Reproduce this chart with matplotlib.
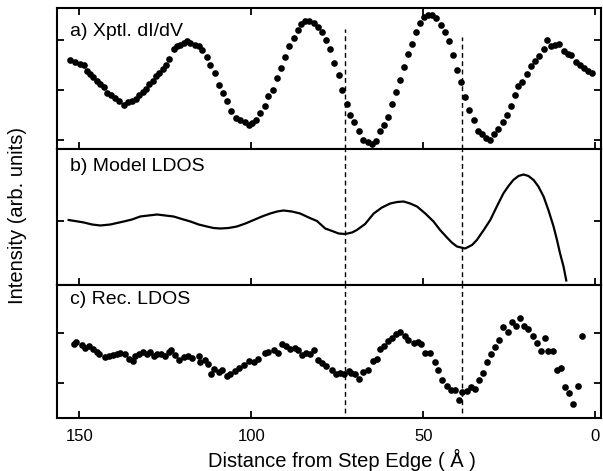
import numpy as np
import matplotlib
matplotlib.use("Agg")
import matplotlib.pyplot as plt

plt.rcParams['font.family'] = ['Liberation Sans', 'DejaVu Sans']

# a) experimental dI/dV (distance in Angstrom, intensity arb.)
xa = [152.6, 151.2, 149.7, 148.7, 147.8, 146.8, 145.9, 144.9, 143.9, 142.9,
      141.9, 140.7, 139.5, 138.4, 137.1, 135.8, 134.7, 133.5, 132.6, 131.6,
      130.6, 129.7, 128.7, 127.7, 126.7, 125.8, 124.8, 123.8, 122.6, 121.6,
      120.6, 119.7, 118.7, 117.7, 116.5, 115.3, 114.3, 112.9, 111.9, 110.5,
      109.5, 108.1, 107.1, 105.8, 104.4, 103.2, 101.7, 100.8, 99.8, 98.6,
      97.4, 96.1, 95.0, 93.8, 92.5, 91.3, 90.1, 89.0, 87.7, 86.5,
      85.5, 84.3, 83.1, 81.9, 80.6, 79.3, 78.3, 77.0, 75.9, 74.6,
      73.5, 72.2, 71.2, 70.0, 68.6, 67.4, 66.1, 64.9, 63.8, 62.5,
      61.3, 60.3, 59.1, 57.9, 56.7, 55.5, 54.4, 53.3, 52.1, 51.0,
      49.7, 48.6, 47.4, 46.2, 44.9, 43.8, 42.6, 41.4, 40.1, 38.9,
      37.8, 36.6, 35.3, 34.1, 33.0, 31.7, 30.5, 29.4, 28.2, 26.9,
      25.7, 24.5, 23.4, 22.4, 21.2, 19.9, 18.7, 17.6, 16.3, 15.0,
      14.1, 12.9, 11.7, 10.5, 9.2, 8.0, 6.9, 5.6, 4.4, 3.2, 2.0, 0.8]
ya = [1.60, 1.55, 1.51, 1.49, 1.38, 1.31, 1.25, 1.18, 1.11, 1.05,
      0.93, 0.89, 0.83, 0.77, 0.70, 0.75, 0.77, 0.82, 0.89, 0.95,
      1.02, 1.11, 1.18, 1.27, 1.34, 1.42, 1.50, 1.63, 1.82, 1.89,
      1.91, 1.95, 1.98, 1.95, 1.91, 1.87, 1.80, 1.67, 1.50, 1.33,
      1.10, 0.93, 0.77, 0.58, 0.43, 0.40, 0.35, 0.30, 0.33, 0.40,
      0.53, 0.67, 0.87, 1.00, 1.23, 1.43, 1.67, 1.89, 2.05, 2.20,
      2.33, 2.38, 2.38, 2.35, 2.27, 2.17, 2.00, 1.81, 1.53, 1.29,
      1.00, 0.71, 0.49, 0.35, 0.17, 0.00, -0.05, -0.09, -0.02, 0.17,
      0.29, 0.45, 0.71, 0.95, 1.20, 1.45, 1.73, 1.93, 2.17, 2.34,
      2.46, 2.51, 2.51, 2.45, 2.31, 2.17, 1.98, 1.70, 1.40, 1.15,
      0.85, 0.60, 0.40, 0.18, 0.11, 0.03, 0.00, 0.11, 0.22, 0.35,
      0.50, 0.67, 0.89, 1.07, 1.15, 1.31, 1.47, 1.58, 1.69, 1.82,
      2.00, 1.89, 1.91, 1.93, 1.78, 1.73, 1.70, 1.55, 1.49, 1.43, 1.38, 1.33]

# b) model LDOS
xb = [153.1, 150.4, 148.7, 146.3, 143.9, 141.0, 137.1, 134.7, 132.3, 129.9,
      127.4, 125.0, 122.6, 120.2, 117.7, 115.3, 112.9, 111.0, 109.0, 106.6,
      104.2, 101.7, 99.3, 96.9, 94.5, 92.5, 90.6, 88.2, 85.8, 83.3,
      80.9, 78.5, 76.1, 74.6, 72.7, 70.7, 69.3, 66.9, 64.4, 62.0,
      59.6, 57.6, 55.7, 53.8, 51.8, 49.4, 47.0, 45.1, 43.1, 41.7,
      40.2, 37.8, 35.8, 34.4, 32.5, 30.5, 28.6, 26.7, 25.2, 23.8,
      22.3, 20.8, 19.4, 17.9, 16.5, 15.0, 13.6, 12.1, 11.1, 10.2,
      9.2, 8.4]
yb = [0.02, -0.01, -0.03, -0.07, -0.09, -0.07, -0.01, 0.03, 0.09, 0.11,
      0.13, 0.11, 0.09, 0.04, -0.01, -0.07, -0.11, -0.14, -0.15, -0.14,
      -0.11, -0.05, 0.02, 0.09, 0.15, 0.19, 0.21, 0.19, 0.15, 0.07,
      0.00, -0.15, -0.21, -0.25, -0.26, -0.23, -0.18, -0.06, 0.15, 0.27,
      0.35, 0.38, 0.39, 0.35, 0.29, 0.15, -0.01, -0.18, -0.33, -0.43,
      -0.51, -0.55, -0.48, -0.38, -0.19, 0.02, 0.29, 0.55, 0.70, 0.82,
      0.90, 0.93, 0.90, 0.82, 0.69, 0.49, 0.22, -0.11, -0.38, -0.65,
      -0.91, -1.19]

# c) reconstructed LDOS
xc = [151.7, 151.0, 149.2, 148.3, 147.3, 146.1, 144.9, 144.4, 142.6, 141.5,
      140.3, 139.0, 138.1, 136.8, 135.5, 134.5, 133.7, 132.6, 131.6, 130.3,
      129.4, 128.4, 127.4, 126.2, 125.0, 124.0, 123.3, 122.1, 120.9, 119.7,
      118.4, 117.2, 115.1, 114.8, 113.6, 112.6, 111.6, 110.7, 109.5, 108.5,
      107.1, 106.1, 104.7, 103.5, 102.2, 100.8, 99.3, 98.1, 95.9, 95.0,
      93.5, 92.2, 91.1, 89.9, 88.7, 87.4, 86.4, 85.3, 84.1, 82.8,
      81.9, 80.6, 79.3, 78.3, 76.5, 75.4, 74.1, 72.9, 71.7, 70.9,
      69.8, 68.6, 67.4, 66.1, 64.7, 63.5, 62.5, 61.5, 60.3, 59.1,
      57.9, 56.7, 55.4, 54.3, 52.8, 51.5, 50.6, 49.4, 48.0, 46.7,
      45.7, 44.4, 43.1, 41.9, 40.9, 39.7, 38.6, 37.3, 36.0, 34.9,
      33.7, 32.5, 31.5, 30.2, 29.1, 27.9, 26.7, 25.4, 24.2, 23.1,
      21.8, 20.8, 19.4, 18.2, 16.9, 15.7, 14.5, 13.6, 12.4, 11.1,
      9.9, 8.7, 7.6, 6.3, 5.0, 3.9]
yc = [0.79, 0.83, 0.76, 0.71, 0.74, 0.69, 0.63, 0.58, 0.53, 0.54,
      0.56, 0.58, 0.61, 0.58, 0.49, 0.45, 0.54, 0.58, 0.63, 0.59,
      0.63, 0.54, 0.58, 0.59, 0.54, 0.63, 0.67, 0.56, 0.47, 0.53,
      0.55, 0.51, 0.54, 0.43, 0.47, 0.38, 0.18, 0.29, 0.23, 0.26,
      0.14, 0.19, 0.25, 0.31, 0.36, 0.45, 0.43, 0.49, 0.61, 0.63,
      0.66, 0.61, 0.79, 0.74, 0.69, 0.71, 0.66, 0.56, 0.61, 0.58,
      0.67, 0.46, 0.41, 0.34, 0.26, 0.19, 0.21, 0.19, 0.25, 0.21,
      0.18, 0.09, 0.23, 0.27, 0.45, 0.49, 0.69, 0.74, 0.85, 0.91,
      0.98, 1.03, 0.94, 0.86, 0.81, 0.83, 0.79, 0.61, 0.61, 0.43,
      0.26, 0.06, -0.06, -0.13, -0.14, -0.34, -0.17, -0.15, -0.07, -0.11,
      0.07, 0.21, 0.43, 0.58, 0.73, 0.86, 1.13, 1.03, 1.23, 1.14,
      1.31, 1.14, 1.09, 0.94, 0.81, 0.65, 0.91, 0.65, 0.65, 0.26,
      0.31, -0.07, -0.19, -0.41, -0.05, 0.94]

step_lines = [72.7, 38.75]
xticks = [150, 100, 50, 0]

fig = plt.figure(figsize=(6.03, 4.71), dpi=100)
L, R = 57 / 603, 601 / 603
def box(top, bot):
    return [L, 1 - bot / 471, R - L, (bot - top) / 471]

ax_a = fig.add_axes(box(8, 149))
ax_b = fig.add_axes(box(149, 285))
ax_c = fig.add_axes(box(285, 418))

ax_a.plot(xa, ya, 'o', color='black', markersize=4.8, markeredgewidth=0)
ax_b.plot(xb, yb, '-', color='black', linewidth=1.6, solid_joinstyle='round')
ax_c.plot(xc, yc, 'o', color='black', markersize=4.8, markeredgewidth=0)

ax_a.set_ylim(-0.18, 2.64)
ax_b.set_ylim(-1.28, 1.44)
ax_c.set_ylim(-0.70, 1.96)
ax_a.set_yticks([0, 1, 2])
ax_b.set_yticks([0])
ax_c.set_yticks([0, 1])

for ax in (ax_a, ax_b, ax_c):
    ax.set_xlim(156.5, -1.7)
    ax.set_xticks(xticks)
    ax.tick_params(direction='in', length=5, width=1.3, right=True, labelleft=False,
                   labelsize=12)
    for s in ax.spines.values():
        s.set_linewidth(1.5)
ax_a.tick_params(top=True, labelbottom=False)
ax_b.tick_params(labelbottom=False)
ax_c.tick_params(axis='x', pad=8)

# dashed guide lines
dash = dict(color='black', linewidth=1.0, linestyle=(0, (3.5, 2.5)))
ax_a.axvline(step_lines[0], ymin=0, ymax=(149 - 29) / 141, **dash)
ax_a.axvline(step_lines[1], ymin=0, ymax=(149 - 37) / 141, **dash)
for xl in step_lines:
    ax_b.axvline(xl, **dash)
    ax_c.axvline(xl, ymin=(418 - 413) / 133, ymax=1, **dash)

ax_a.text(0.024, 0.83, 'a) Xptl. dI/dV', transform=ax_a.transAxes, fontsize=14,
          ha='left', va='center')
ax_b.text(0.024, 0.87, 'b) Model LDOS', transform=ax_b.transAxes, fontsize=14,
          ha='left', va='center')
ax_c.text(0.024, 0.89, 'c) Rec. LDOS', transform=ax_c.transAxes, fontsize=14,
          ha='left', va='center')

fig.text(342 / 603, 1 - 460 / 471, 'Distance from Step Edge ( Å )', fontsize=14.5,
         ha='center', va='center')
fig.text(18 / 603, 1 - 215 / 471, 'Intensity (arb. units)', fontsize=14.5,
         ha='center', va='center', rotation=90)

fig.savefig('out.png', dpi=100)
